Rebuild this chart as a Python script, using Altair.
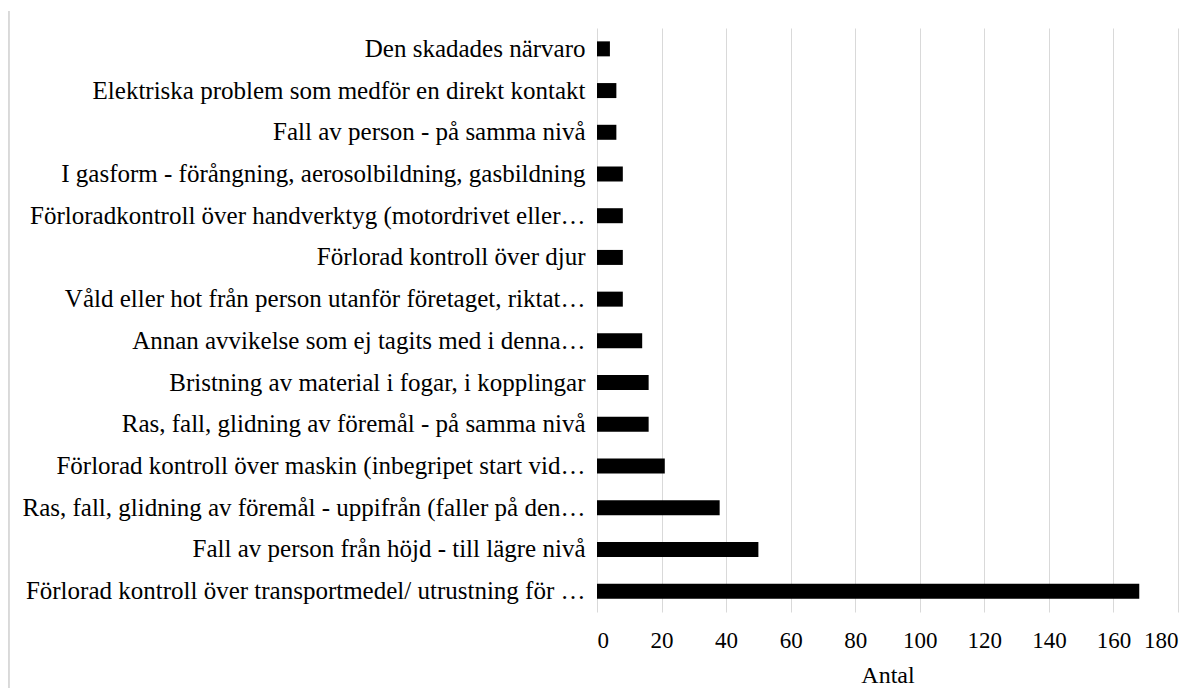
import altair as alt
import pandas as pd

categories = [
    "Den skadades närvaro",
    "Elektriska problem som medför en direkt kontakt",
    "Fall av person - på samma nivå",
    "I gasform - förångning, aerosolbildning, gasbildning",
    "Förloradkontroll över handverktyg (motordrivet eller…",
    "Förlorad kontroll över djur",
    "Våld eller hot från person utanför företaget, riktat…",
    "Annan avvikelse som ej tagits med i denna…",
    "Bristning av material i fogar, i kopplingar",
    "Ras, fall, glidning av föremål - på samma nivå",
    "Förlorad kontroll över maskin (inbegripet start vid…",
    "Ras, fall, glidning av föremål - uppifrån (faller på den…",
    "Fall av person från höjd - till lägre nivå",
    "Förlorad kontroll över transportmedel/ utrustning för …",
]
values = [4, 6, 6, 8, 8, 8, 8, 14, 16, 16, 21, 38, 50, 168]
x_ticks = [0, 20, 40, 60, 80, 100, 120, 140, 160, 180]

df = pd.DataFrame({"kategori": categories, "antal": values})

FONT = "Liberation Serif"

bars = (
    alt.Chart(df)
    .mark_bar(color="black", size=15)
    .encode(
        x=alt.X(
            "antal:Q",
            scale=alt.Scale(domain=[0, 180], nice=False, zero=True),
            axis=alt.Axis(
                title="Antal",
                values=x_ticks,
                grid=True,
                gridColor="#d9d9d9",
                gridWidth=1,
                domain=False,
                ticks=False,
                tickSize=0,
                labelPadding=17,
                labelFont=FONT,
                labelFontSize=23,
                labelColor="black",
                titleFont=FONT,
                titleFontSize=24,
                titleFontWeight="normal",
                titleColor="black",
                titlePadding=11,
            ),
        ),
        y=alt.Y(
            "kategori:N",
            sort=categories,
            scale=alt.Scale(paddingInner=0, paddingOuter=0),
            axis=alt.Axis(
                title=None,
                domain=False,
                ticks=False,
                tickSize=0,
                grid=False,
                labelPadding=12,
                labelLimit=700,
                labelFont=FONT,
                labelFontSize=25,
                labelColor="black",
            ),
        ),
    )
)

border = (
    alt.Chart(df)
    .mark_rule(color="#d9d9d9", strokeWidth=1.5)
    .encode(
        x=alt.value(-588.5),
        y=alt.value(-17),
        y2=alt.value(684),
    )
)

chart = (
    alt.layer(bars, border)
    .properties(
        width=581,
        height=584,
        autosize=alt.AutoSizeParams(type="none"),
        padding={"left": 589, "top": 20, "right": 12, "bottom": 76},
    )
    .configure_view(stroke=None)
)

chart.save("out.html", embed_options={"renderer": "svg", "actions": False})
